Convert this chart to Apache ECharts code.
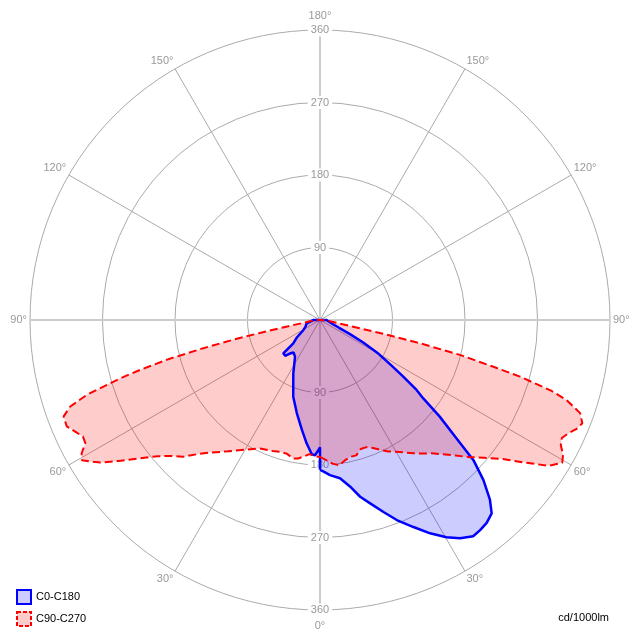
<!DOCTYPE html>
<html>
<head>
<meta charset="utf-8">
<script src="https://cdn.jsdelivr.net/npm/echarts@6/dist/echarts.min.js"></script>
<style>html,body{margin:0;padding:0;background:#fff}#chart{width:640px;height:640px}</style>
</head>
<body>
<div id="chart"></div>
<script>
// Gamma angles (deg from nadir) and intensities (cd/1000lm)
const c0Gamma = [0,1.2,3.7,7.2,10.2,12.8,15.3,18.3,21,24.3,27.3,30.2,32.7,35.3,37.3,39.4,41.6,43.4,45.6,47.6,49.1,51.1,52.8,54.1,55.8,57.5,60,62.5,65,68,72,80,90,92,180];
const c0Values = [186,188,193,198,210,225,236,251,266,282,298,312,322,329,328,326,321,307,284,258,224,191,161,148,125,105,84,60,40,25,17,11,8,0,0];

const c180Gamma = [0,1,2.1,3.5,6.2,9.4,14,19.2,26.6,30,34.3,39.2,42,44.2,46,47.8,48.9,53,59,65,76,90,92,180];
const c180Values = [158,163,168,167,154,138,119,101,74,64,55,52,56,62,63,61.5,44,36,24,20,17,8,0,0];

const c90Gamma = [0,2.5,5,7.5,10,12.5,15,17.5,20,22.5,25,27.5,30,32.5,35,37.5,40,42.5,45,47.5,50,52.5,55,57.5,59.5,61,62.5,64,65.5,67,68.5,70.3,72,73,74.2,74.9,76,76.9,77.6,78.7,80,82.5,85,87.5,90,95,180];
const c90Values = [170,174,179,182,177,174,174,168,168,172,178,184,189,195,202,209,216,226,238,252,266,283,308,337,349,345,337,334,339,346,350,343,322,300,258,223,179,127,85,40,24,14,8,5,3,0,0];

const c270Gamma = [0,2.5,4.5,7,9,11,14,17,20,25,30,35,40,42.5,45,47.5,50,52.5,55,57,58,59.5,60.8,62.3,63.8,65.5,67.2,69.4,70.9,72.2,73.7,74.5,75.5,76.4,77.2,77.9,78.9,80,82.5,85,87.5,90,95,180];
const c270Values = [170,169,167,171,174,175,171,171,173,176,186,199,215,226,240,250,263,282,305,325,332,343,339,329,328,334,341,340,328,304,259,232,195,150,110,75,40,24,14,8,5,3,0,0];

const seriesNames = ['C0-C180', 'C90-C270'];
const radiusMax = 360;
const radiusStep = 90;
const angleStep = 30;
const unitLabel = 'cd/1000lm';

const FONT = 'Liberation Sans';

function buildLoop(rg, rv, lg, lv, close) {
  const pts = [];
  for (let i = 0; i < rg.length; i++) pts.push([rv[i], rg[i]]);
  for (let i = lg.length - 1; i >= 0; i--) pts.push([lv[i], 360 - lg[i]]);
  if (close) pts.push([rv[0], 360]);
  return pts;
}

const blueData = buildLoop(c0Gamma, c0Values, c180Gamma, c180Values, true);
const redData = buildLoop(c90Gamma, c90Values, c270Gamma, c270Values, false);

const chart = echarts.init(document.getElementById('chart'), null, {renderer: 'canvas'});

const radiusLabel = {
  show: true, showMinLabel: false, margin: 0, align: 'center', verticalAlign: 'middle',
  color: '#999', fontSize: 11, fontFamily: FONT, backgroundColor: '#fff', padding: [1, 3]
};

function areaSeries(name, data, fill, z) {
  return {
    name, type: 'line', coordinateSystem: 'polar', polarIndex: 0, data,
    symbol: 'none', showSymbol: false, silent: true, z,
    itemStyle: {color: fill},
    lineStyle: {width: 0, opacity: 0},
    areaStyle: {color: fill, opacity: 1}
  };
}
function lineSeries(name, data, color, width, type, z) {
  return {
    name, type: 'line', coordinateSystem: 'polar', polarIndex: 0, data,
    symbol: 'none', showSymbol: false, silent: true, z,
    itemStyle: {color},
    lineStyle: {color, width, type}
  };
}

const lblBase = {color: '#999', fontSize: 11, fontFamily: FONT};

chart.setOption({
  animation: false,
  polar: [
    {center: ['50%', '50%'], radius: 290},
    {center: ['50%', '50%'], radius: 290},
    {center: ['50%', '50%'], radius: 290}
  ],
  angleAxis: [
    {
      polarIndex: 0, type: 'value', min: 0, max: 360, interval: angleStep,
      startAngle: 270, clockwise: false, z: 1,
      axisLine: {show: false}, axisTick: {show: false},
      axisLabel: {
        formatter: v => {
          const g = (v <= 180 ? v : 360 - v);
          if (g === 0) return '{s|' + g + '°}';
          if (g === 180) return '{n|' + g + '°}';
          return '{m|' + g + '°}';
        },
        color: '#999', fontSize: 11, fontFamily: FONT, margin: 3,
        rich: {
          s: Object.assign({padding: [7, 0, 0, 0]}, lblBase),
          n: Object.assign({padding: [0, 0, 6, 0]}, lblBase),
          m: Object.assign({}, lblBase)
        }
      },
      splitLine: {show: true, lineStyle: {color: ['rgba(0,0,0,0)', '#aaa', '#aaa'], width: 1}}
    },
    {
      polarIndex: 1, type: 'value', min: 0, max: 360, interval: 90,
      startAngle: 90, z: 1,
      axisLine: {show: false}, axisTick: {show: false}, axisLabel: {show: false},
      splitLine: {show: true, lineStyle: {color: '#cccccc', width: 2}}
    },
    {
      polarIndex: 2, type: 'value', min: 0, max: 360, interval: 90,
      startAngle: 270, z: 0, show: false
    }
  ],
  radiusAxis: [
    {
      polarIndex: 0, type: 'value', min: 0, max: radiusMax, interval: radiusStep, z: 1,
      axisLine: {show: false}, axisTick: {show: false}, axisLabel: {show: false},
      splitLine: {show: true, lineStyle: {color: '#aaa', width: 1}}
    },
    {
      polarIndex: 1, type: 'value', min: 0, max: radiusMax, interval: radiusStep, z: 3,
      axisLine: {show: false}, axisTick: {show: false}, splitLine: {show: false},
      axisLabel: radiusLabel
    },
    {
      polarIndex: 2, type: 'value', min: 0, max: radiusMax, interval: radiusStep, z: 3,
      axisLine: {show: false}, axisTick: {show: false}, splitLine: {show: false},
      axisLabel: radiusLabel
    }
  ],
  legend: {
    orient: 'vertical', left: 16, top: 589, padding: 0,
    itemWidth: 14, itemHeight: 14, itemGap: 6, icon: 'rect',
    textStyle: {fontSize: 11, color: '#000', fontFamily: FONT},
    data: [
      {name: seriesNames[0], itemStyle: {color: 'rgba(0,0,255,0.2)', borderColor: '#0000ff', borderWidth: 2, borderType: 'solid'}},
      {name: seriesNames[1], itemStyle: {color: 'rgba(255,0,0,0.2)', borderColor: '#ff0000', borderWidth: 2, borderType: [4, 2]}}
    ]
  },
  title: {
    text: unitLabel, right: 26, top: 607,
    textStyle: {fontSize: 11, fontWeight: 'normal', color: '#000', fontFamily: FONT}
  },
  series: [
    areaSeries(seriesNames[0], blueData, 'rgba(0,0,255,0.2)', 5),
    areaSeries(seriesNames[1], redData, 'rgba(255,0,0,0.2)', 6),
    lineSeries(seriesNames[0], blueData, '#0000ff', 2.5, 'solid', 7),
    lineSeries(seriesNames[1], redData, '#ff0000', 2, [8, 4], 8)
  ]
});
</script>
</body>
</html>
